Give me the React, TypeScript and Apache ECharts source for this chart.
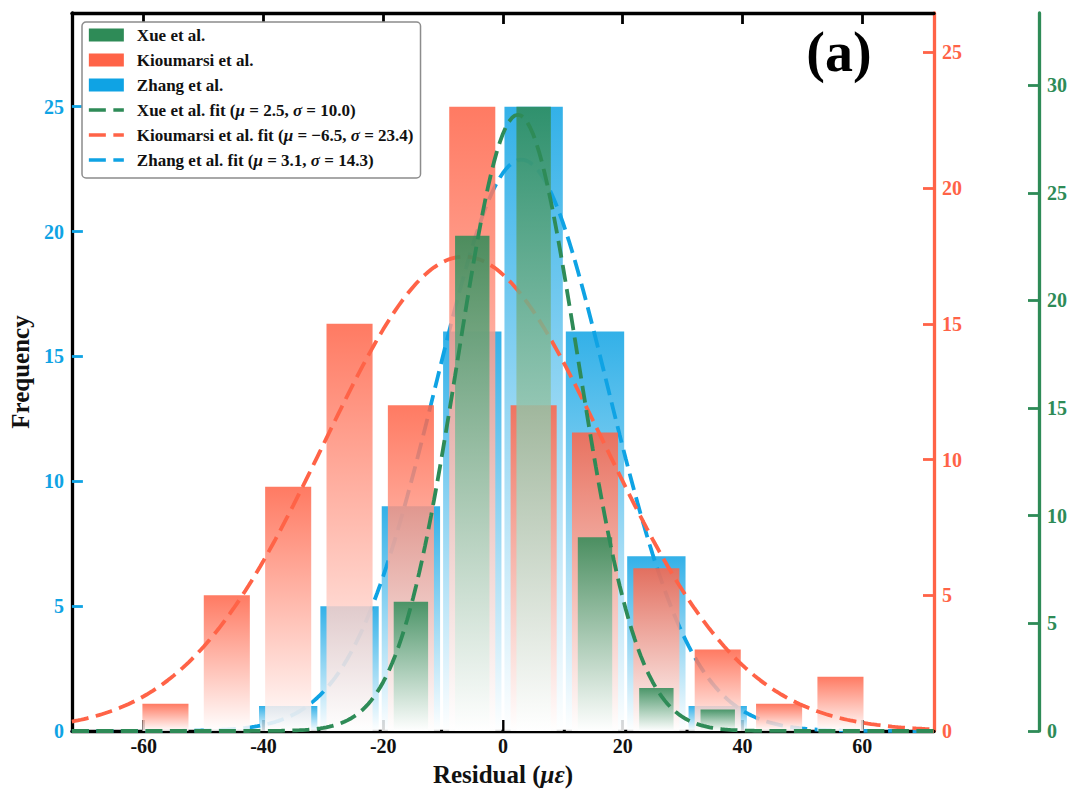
import React, { useEffect, useRef } from "react";
import * as echarts from "echarts";

// ---------- data ----------
const binCenters = [-56.375, -46.125, -35.875, -25.625, -15.375, -5.125, 5.125, 15.375, 25.625, 35.875, 46.125, 56.375];
const binWidth = 10.25;
const xueCounts = [0, 0, 0, 0, 6, 23, 29, 9, 2, 1, 0, 0];
const kioumarsiCounts = [1, 5, 9, 15, 12, 23, 12, 11, 6, 3, 1, 2];
const zhangCounts = [0, 0, 1, 5, 9, 16, 25, 16, 7, 1, 0, 0];
const datasetNames = ["Xue et al.", "Kioumarsi et al.", "Zhang et al."];
const fitMu = [2.5, -6.5, 3.1];
const fitSigma = [10.0, 23.4, 14.3];
const xTicks = [-60, -40, -20, 0, 20, 40, 60];
const leftTicks = [0, 5, 10, 15, 20, 25];
const orangeTicks = [0, 5, 10, 15, 20, 25];
const greenTicks = [0, 5, 10, 15, 20, 25, 30];
const xRange = [-72, 72];

const GREEN = "#2E8B57";
const ORANGE = "#FF6347";
const BLUE = "#0FA3E4";
const FONT = "'Liberation Serif', 'Times New Roman', Times, serif";

const fmt = (v: number) => v.toFixed(1).replace("-", "\u2212");
const fitNames = datasetNames.map(
  (n, i) => `${n} fit (\u03bc = ${fmt(fitMu[i])}, \u03c3 = ${fmt(fitSigma[i])})`
);
const fitRich = datasetNames.map(
  (n, i) => `{b|${n} fit (}{i|\u03bc}{b| = ${fmt(fitMu[i])}, }{i|\u03c3}{b| = ${fmt(fitSigma[i])})}`
);

function fitCurve(idx: number, counts: number[]) {
  const n = counts.reduce((a, b) => a + b, 0);
  const mu = fitMu[idx];
  const s = fitSigma[idx];
  const pts: number[][] = [];
  for (let k = 0; k <= 288; k++) {
    const x = xRange[0] + k * 0.5;
    const y = (n * binWidth) / (s * Math.sqrt(2 * Math.PI)) * Math.exp(-0.5 * ((x - mu) / s) ** 2);
    pts.push([x, y]);
  }
  return pts;
}

function grad(hex: string, alpha: number) {
  const r = parseInt(hex.slice(1, 3), 16);
  const g = parseInt(hex.slice(3, 5), 16);
  const b = parseInt(hex.slice(5, 7), 16);
  return new echarts.graphic.LinearGradient(0, 0, 0, 1, [
    { offset: 0, color: `rgba(${r},${g},${b},${alpha})` },
    { offset: 1, color: `rgba(255,255,255,${alpha})` },
  ]);
}

export default function App() {
  const ref = useRef<HTMLDivElement>(null);
  useEffect(() => {
    if (!ref.current) return;
    const chart = echarts.init(ref.current, undefined, { renderer: "svg" });
    const gridLeft = 71;
    const gridRight = 146;
    const plotW = 1080 - gridLeft - gridRight;
    const pxPerUnit = plotW / (xRange[1] - xRange[0]);
    const barData = (counts: number[]) => binCenters.map((c, i) => [c, counts[i]]);

    const tickLabel = (color: string) => ({
      color,
      fontFamily: FONT,
      fontWeight: "bold" as const,
      fontSize: 20,
    });
    const noSymbol = { color: "rgba(0,0,0,0)", borderWidth: 0, opacity: 0 };

    const option: any = {
      animation: false,
      backgroundColor: "#fff",
      grid: { left: gridLeft, right: gridRight, top: 13, bottom: 73, containLabel: false },
      legend: {
        orient: "vertical",
        left: 82,
        top: 22,
        padding: [4.5, 7, 9.5, 5],
        backgroundColor: "#fff",
        borderColor: "#8c8c8c",
        borderWidth: 1.5,
        borderRadius: 4,
        itemWidth: 35,
        itemHeight: 13,
        itemGap: 8,
        lineStyle: { width: 3.7 },
        z: 20,
        textStyle: {
          fontFamily: FONT,
          fontWeight: "bold",
          fontSize: 17,
          color: "#111",
          padding: [0, 0, 0, 8],
          rich: {
            b: { fontFamily: FONT, fontWeight: "bold", fontSize: 17, color: "#111" },
            i: { fontFamily: FONT, fontWeight: "bold", fontStyle: "italic", fontSize: 17, color: "#111" },
          },
        },
        formatter: (name: string) => {
          const fi = fitNames.indexOf(name);
          if (fi >= 0) return fitRich[fi];
          return `{b|${name}}`;
        },
        data: [
          { name: datasetNames[0], icon: "rect", itemStyle: { color: GREEN, opacity: 1 } },
          { name: datasetNames[1], icon: "rect", itemStyle: { color: ORANGE, opacity: 1 } },
          { name: datasetNames[2], icon: "rect", itemStyle: { color: BLUE, opacity: 1 } },
          { name: fitNames[0], itemStyle: noSymbol },
          { name: fitNames[1], itemStyle: noSymbol },
          { name: fitNames[2], itemStyle: noSymbol },
        ],
      },
      xAxis: [
        {
          type: "value",
          min: xRange[0],
          max: xRange[1],
          position: "bottom",
          name: "{a|Residual (}{b|\u03bc\u03b5}{a|)}",
          nameLocation: "middle",
          nameGap: 31,
          nameTextStyle: {
            rich: {
              a: { fontFamily: FONT, fontWeight: "bold", fontSize: 25, color: "#111" },
              b: { fontFamily: FONT, fontWeight: "bold", fontStyle: "italic", fontSize: 25, color: "#111" },
            },
          },
          axisLine: { show: true, onZero: false, lineStyle: { color: "#000", width: 3.3 } },
          axisTick: { show: true, inside: true, length: 11, customValues: xTicks, lineStyle: { color: "#000", width: 2.8 } },
          axisLabel: { ...tickLabel("#111"), margin: 5, customValues: xTicks },
          splitLine: { show: false },
        },
        {
          type: "value",
          min: xRange[0],
          max: xRange[1],
          position: "top",
          axisLine: { show: true, onZero: false, lineStyle: { color: "#000", width: 3.3 } },
          axisTick: { show: true, inside: true, length: 11, customValues: xTicks, lineStyle: { color: "#000", width: 2.8 } },
          axisLabel: { show: false },
          splitLine: { show: false },
        },
        { type: "value", min: xRange[0], max: xRange[1], show: false, splitLine: { show: false } },
        { type: "value", min: xRange[0], max: xRange[1], show: false, splitLine: { show: false } },
      ],
      yAxis: [
        {
          type: "value",
          min: 0,
          max: Math.max(...zhangCounts) * 1.15,
          position: "left",
          name: "Frequency",
          nameLocation: "middle",
          nameGap: 35,
          nameTextStyle: { fontFamily: FONT, fontWeight: "bold", fontSize: 25, color: "#111" },
          axisLine: { show: true, onZero: false, lineStyle: { color: "#000", width: 3.3 } },
          axisTick: { show: true, inside: true, length: 11, customValues: leftTicks, lineStyle: { color: BLUE, width: 2.8 } },
          axisLabel: { ...tickLabel(BLUE), margin: 8, customValues: leftTicks },
          splitLine: { show: false },
        },
        {
          type: "value",
          min: 0,
          max: Math.max(...kioumarsiCounts) * 1.15,
          position: "right",
          offset: 0,
          axisLine: { show: true, onZero: false, lineStyle: { color: ORANGE, width: 3.3 } },
          axisTick: { show: true, inside: true, length: 11, customValues: orangeTicks, lineStyle: { color: ORANGE, width: 2.8 } },
          axisLabel: { ...tickLabel(ORANGE), margin: 8, customValues: orangeTicks },
          splitLine: { show: false },
        },
        {
          type: "value",
          min: 0,
          max: Math.max(...xueCounts) * 1.15,
          position: "right",
          offset: 105,
          axisLine: { show: true, onZero: false, lineStyle: { color: GREEN, width: 3.3 } },
          axisTick: { show: true, inside: true, length: 11, customValues: greenTicks, lineStyle: { color: GREEN, width: 2.8 } },
          axisLabel: { ...tickLabel(GREEN), margin: 8, customValues: greenTicks },
          splitLine: { show: false },
        },
      ],
      series: [
        {
          name: datasetNames[2],
          type: "bar",
          xAxisIndex: 0,
          yAxisIndex: 0,
          barWidth: 0.95 * binWidth * pxPerUnit,
          data: barData(zhangCounts),
          itemStyle: { color: grad(BLUE, 0.85) },
          z: 2,
        },
        {
          name: fitNames[2],
          type: "line",
          xAxisIndex: 0,
          yAxisIndex: 0,
          data: fitCurve(2, zhangCounts),
          symbol: "none",
          showSymbol: false,
          itemStyle: { color: BLUE },
          lineStyle: { color: BLUE, width: 3.8, type: [17, 7.5] },
          z: 3,
        },
        {
          name: datasetNames[1],
          type: "bar",
          xAxisIndex: 2,
          yAxisIndex: 1,
          barWidth: 0.75 * binWidth * pxPerUnit,
          data: barData(kioumarsiCounts),
          itemStyle: { color: grad(ORANGE, 0.85) },
          z: 4,
        },
        {
          name: fitNames[1],
          type: "line",
          xAxisIndex: 0,
          yAxisIndex: 1,
          data: fitCurve(1, kioumarsiCounts),
          symbol: "none",
          showSymbol: false,
          itemStyle: { color: ORANGE },
          lineStyle: { color: ORANGE, width: 3.8, type: [17, 7.5] },
          z: 5,
        },
        {
          name: datasetNames[0],
          type: "bar",
          xAxisIndex: 3,
          yAxisIndex: 2,
          barWidth: 0.56 * binWidth * pxPerUnit,
          data: barData(xueCounts),
          itemStyle: { color: grad(GREEN, 0.85) },
          z: 6,
        },
        {
          name: fitNames[0],
          type: "line",
          xAxisIndex: 0,
          yAxisIndex: 2,
          data: fitCurve(0, xueCounts),
          symbol: "none",
          showSymbol: false,
          itemStyle: { color: GREEN },
          lineStyle: { color: GREEN, width: 3.8, type: [17, 7.5] },
          z: 7,
        },
      ],
      graphic: [
        {
          type: "text",
          x: 839,
          y: 52,
          z: 30,
          style: {
            text: "(a)",
            fontFamily: FONT,
            fontWeight: "bold",
            fontSize: 56,
            fill: "#000",
            textAlign: "center",
            textVerticalAlign: "middle",
          },
        },
      ],
    };
    chart.setOption(option);
    return () => chart.dispose();
  }, []);
  return (
    <div
      ref={ref}
      style={{ position: "absolute", left: 0, top: 0, width: 1080, height: 804, background: "#fff" }}
    />
  );
}
